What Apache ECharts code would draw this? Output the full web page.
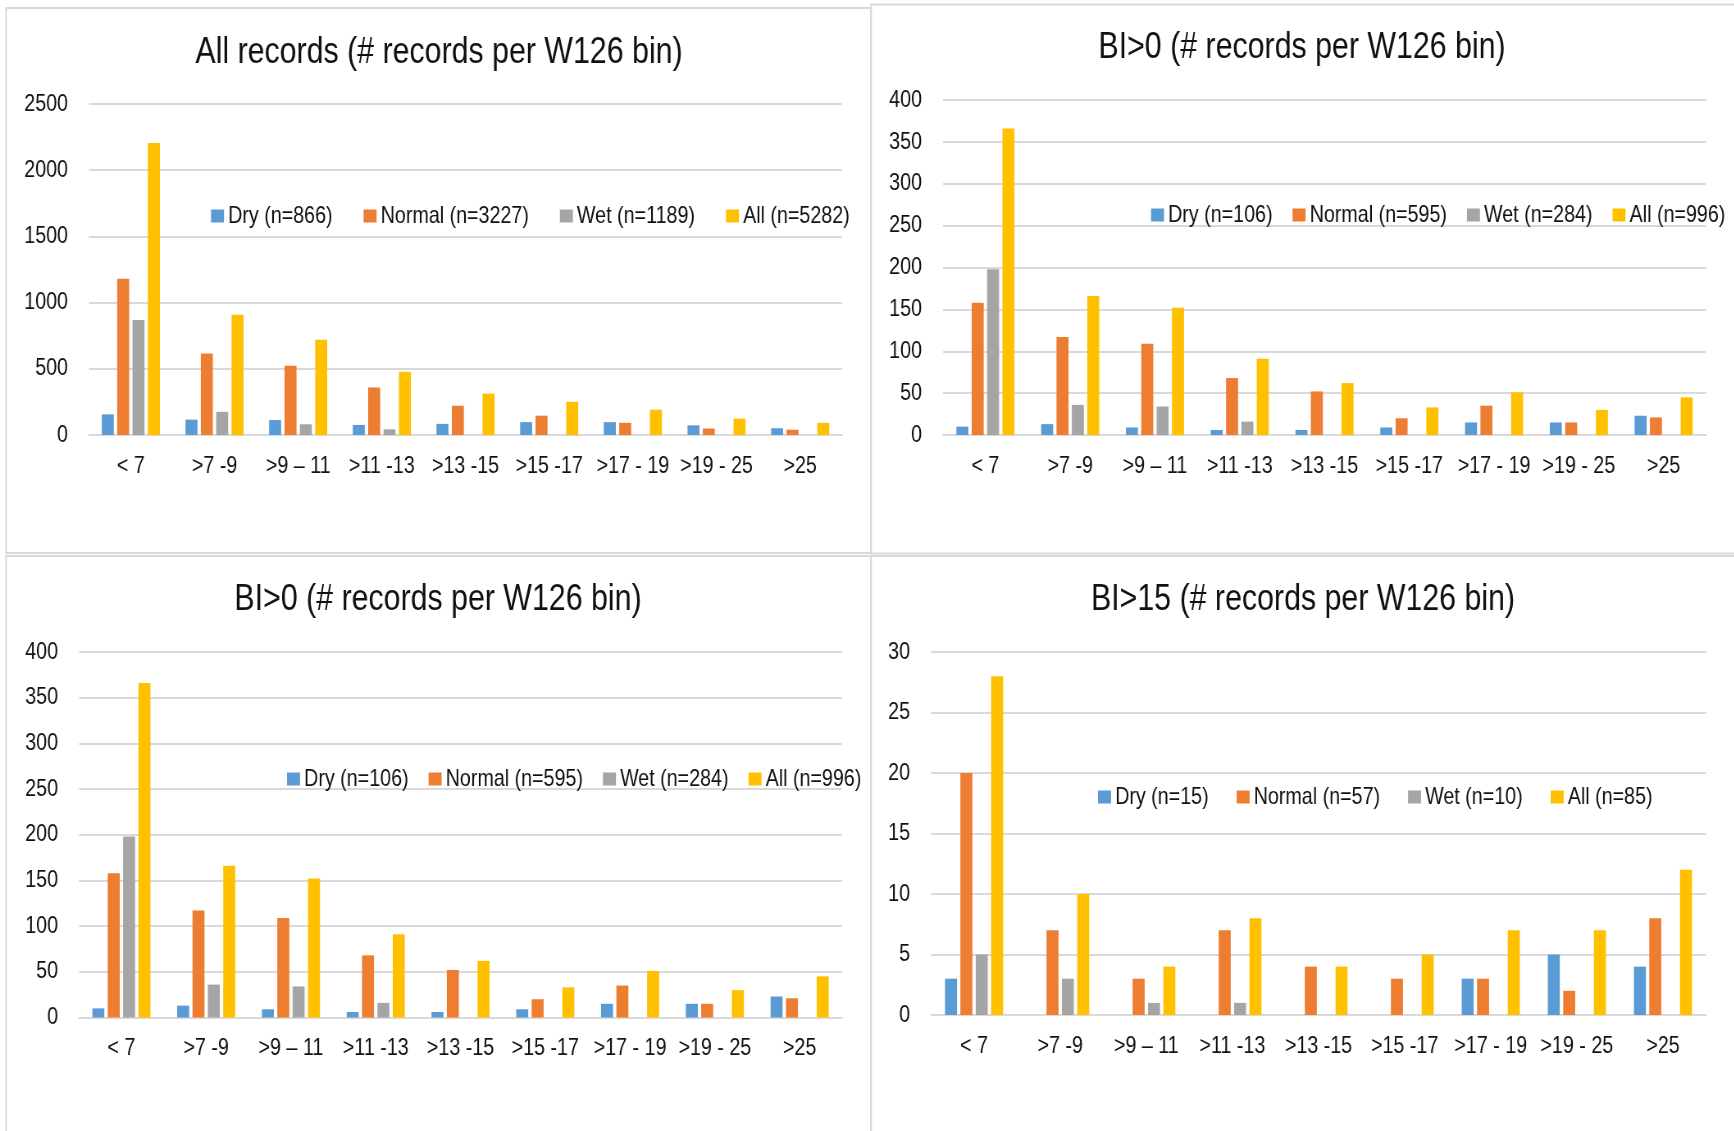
<!DOCTYPE html>
<html>
<head>
<meta charset="utf-8">
<script src="https://cdn.jsdelivr.net/npm/echarts@6/dist/echarts.min.js"></script>
<style>
  html, body { margin: 0; padding: 0; background: #fff; overflow: hidden; }
  /* no narrow font installed: draw wide and squeeze horizontally */
  #chart { height: 1131px; transform-origin: 0 0; }
</style>
</head>
<body>
<div id="chart"></div>
<script>
// W126 bins
const categories = ['< 7', '>7 -9', '>9 \u2013 11', '>11 -13', '>13 -15', '>15 -17', '>17 - 19', '>19 - 25', '>25'];

// all records
const allNames = ['Dry (n=866)', 'Normal (n=3227)', 'Wet (n=1189)', 'All (n=5282)'];
const allDry = [156, 116, 113, 76, 84, 97, 97, 73, 51];
const allNormal = [1181, 615, 523, 359, 221, 146, 92, 49, 40];
const allWet = [868, 175, 81, 43, 0, 0, 0, 0, 0];
const allAll = [2206, 909, 720, 477, 313, 251, 191, 124, 92];
const allTicks = { max: 2500, interval: 500 };

// BI>0
const bi0Names = ['Dry (n=106)', 'Normal (n=595)', 'Wet (n=284)', 'All (n=996)'];
const bi0Dry = [10, 13, 9, 6, 6, 9, 15, 15, 23];
const bi0Normal = [158, 117, 109, 68, 52, 20, 35, 15, 21];
const bi0Wet = [198, 36, 34, 16, 0, 0, 0, 0, 0];
const bi0All = [366, 166, 152, 91, 62, 33, 51, 30, 45];
const bi0Ticks = { max: 400, interval: 50 };

// BI>15
const bi15Names = ['Dry (n=15)', 'Normal (n=57)', 'Wet (n=10)', 'All (n=85)'];
const bi15Dry = [3, 0, 0, 0, 0, 0, 3, 5, 4];
const bi15Normal = [20, 7, 3, 7, 4, 3, 3, 2, 8];
const bi15Wet = [5, 3, 1, 1, 0, 0, 0, 0, 0];
const bi15All = [28, 10, 4, 8, 4, 5, 7, 7, 12];
const bi15Ticks = { max: 30, interval: 5 };

const COLORS = ['#5B9BD5', '#ED7D31', '#A5A5A5', '#FFC000'];
const FONT = '"Liberation Sans", Arial, sans-serif';
const TXT = '#111';
const GRIDC = '#D9D9D9';
const SX = 0.82;               // horizontal squeeze (Arial Narrow look)
const W = 1734;
const X = v => v / SX;         // page x -> unsqueezed x

const el = document.getElementById('chart');
el.style.width = X(W) + 'px';
el.style.transform = 'scaleX(' + SX + ')';

// one entry per panel (layout only, page pixels)
const panels = [
  { title: 'All records (# records per W126 bin)', names: allNames, data: [allDry, allNormal, allWet, allAll], ticks: allTicks,
    box: [6, 8, 865, 545], titlePos: [439, 53], grid: [89, 104, 753, 331], legend: [211, 204], legendGap: 31 },
  { title: 'BI>0 (# records per W126 bin)', names: bi0Names, data: [bi0Dry, bi0Normal, bi0Wet, bi0All], ticks: bi0Ticks,
    box: [871, 4.5, 870, 549], titlePos: [1302, 48], grid: [943, 100, 763, 335], legend: [1151, 203], legendGap: 20 },
  { title: 'BI>0 (# records per W126 bin)', names: bi0Names, data: [bi0Dry, bi0Normal, bi0Wet, bi0All], ticks: bi0Ticks,
    box: [6, 556, 865, 600], titlePos: [438, 600], grid: [79, 652, 763, 365.5], legend: [287, 767], legendGap: 20 },
  { title: 'BI>15 (# records per W126 bin)', names: bi15Names, data: [bi15Dry, bi15Normal, bi15Wet, bi15All], ticks: bi15Ticks,
    box: [871, 556, 870, 600], titlePos: [1303, 600], grid: [931, 652, 775, 363], legend: [1098, 785], legendGap: 28 }
];

const option = {
  animation: false,
  backgroundColor: '#fff',
  textStyle: { fontFamily: FONT },
  grid: [], xAxis: [], yAxis: [], legend: [], series: [], graphic: []
};

panels.forEach((p, i) => {
  option.graphic.push({
    type: 'rect', shape: { x: X(p.box[0]), y: p.box[1], width: X(p.box[2]), height: p.box[3] },
    style: { fill: 'none', stroke: GRIDC, lineWidth: 2 }, z: -1
  });
  option.graphic.push({
    type: 'text', x: X(p.titlePos[0]), y: p.titlePos[1],
    style: { text: p.title, font: '37px ' + FONT, fill: TXT, align: 'center', verticalAlign: 'middle' }
  });
  option.grid.push({ left: X(p.grid[0]), top: p.grid[1], width: X(p.grid[2]), height: p.grid[3] });
  option.xAxis.push({
    type: 'category', gridIndex: i, data: categories,
    axisLine: { lineStyle: { color: GRIDC, width: 2 } },
    axisTick: { show: false },
    axisLabel: { color: TXT, fontSize: 24, fontFamily: FONT, margin: 19, interval: 0 }
  });
  option.yAxis.push({
    type: 'value', gridIndex: i, min: 0, max: p.ticks.max, interval: p.ticks.interval,
    axisLine: { show: false }, axisTick: { show: false },
    axisLabel: { color: TXT, fontSize: 24, fontFamily: FONT, margin: X(21), formatter: v => String(v) },
    splitLine: { lineStyle: { color: GRIDC, width: 2 } }
  });
  option.legend.push({
    left: X(p.legend[0]), top: p.legend[1], orient: 'horizontal', width: X(900), padding: 0,
    data: p.names, icon: 'rect', itemWidth: X(13), itemHeight: 13, itemGap: X(p.legendGap),
    textStyle: { color: TXT, fontSize: 24, fontFamily: FONT }, selectedMode: false
  });
  p.names.forEach((name, k) => {
    option.series.push({
      type: 'bar', name: name, xAxisIndex: i, yAxisIndex: i,
      data: p.data[k], barWidth: X(12), barGap: '28%',
      itemStyle: { color: COLORS[k] }
    });
  });
});

const chart = echarts.init(el, null, { renderer: 'canvas' });
chart.setOption(option);
</script>
</body>
</html>
